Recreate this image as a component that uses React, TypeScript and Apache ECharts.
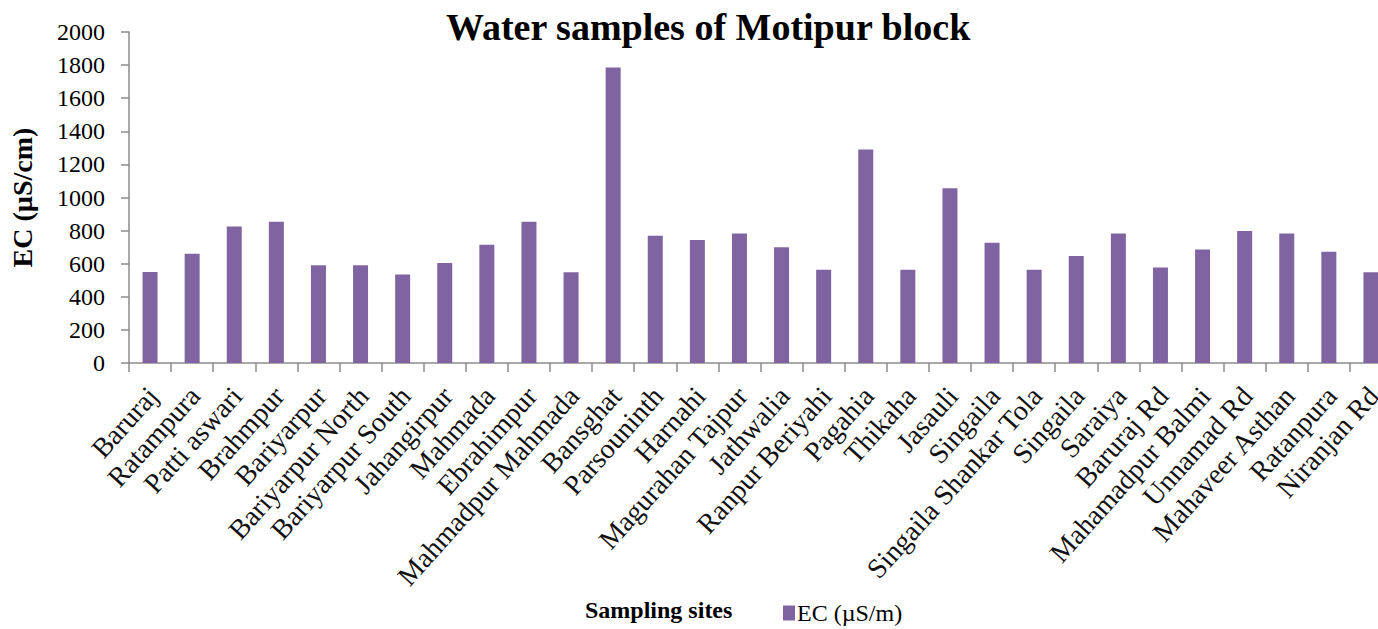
import React, { useEffect, useRef } from "react";
import * as echarts from "echarts";

const categories = [
  "Baruraj", "Ratampura", "Patti aswari", "Brahmpur", "Bariyarpur",
  "Bariyarpur North", "Bariyarpur South", "Jahangirpur", "Mahmada", "Ebrahimpur",
  "Mahmadpur Mahmada", "Bansghat", "Parsouninth", "Harnahi", "Magurahan Tajpur",
  "Jathwalia", "Ranpur Beriyahi", "Pagahia", "Thikaha", "Jasauli",
  "Singaila", "Singaila Shankar Tola", "Singaila", "Saraiya", "Baruraj Rd",
  "Mahamadpur Balmi", "Unnamad Rd", "Mahaveer Asthan", "Ratanpura", "Niranjan Rd",
];

const ecValues = [
  550, 660, 825, 853, 590,
  590, 535, 604, 714, 853,
  549, 1785, 769, 743, 783,
  700, 563, 1290, 563, 1056,
  726, 563, 646, 783, 577,
  686, 797, 783, 672, 549,
];

const seriesName = "EC (µS/m)";
const titleText = "Water samples of Motipur block";
const yAxisName = "EC (µS/cm)";
const xAxisName = "Sampling sites";

const FONT = "'Liberation Serif', 'Times New Roman', serif";
const AXIS_GRAY = "#8c8c8c";

export default function App() {
  const ref = useRef<HTMLDivElement>(null);
  useEffect(() => {
    if (!ref.current) return;
    const chart = echarts.init(ref.current, null, { renderer: "svg" });
    chart.setOption({
      animation: false,
      backgroundColor: "#ffffff",
      title: {
        text: titleText,
        left: 446,
        top: 8,
        padding: 0,
        textStyle: { fontFamily: FONT, fontSize: 38, fontWeight: "bold", color: "#000" },
      },
      legend: {
        left: 783,
        top: 601,
        padding: 0,
        itemWidth: 12,
        itemHeight: 15,
        icon: "rect",
        textStyle: { fontFamily: FONT, fontSize: 24, color: "#000", padding: [0, 0, 0, -3] },
        data: [seriesName],
      },
      grid: { left: 127, top: 32, width: 1265, height: 331, containLabel: false },
      xAxis: {
        type: "category",
        data: categories,
        boundaryGap: true,
        axisLine: { show: true, lineStyle: { color: AXIS_GRAY, width: 1.5 } },
        axisTick: { show: true, length: 9, alignWithLabel: false, lineStyle: { color: AXIS_GRAY, width: 1.5 } },
        axisLabel: {
          interval: 0,
          rotate: 48,
          margin: 31,
          padding: [0, -4, 0, 0],
          fontFamily: FONT,
          fontSize: 28,
          color: "#111",
        },
        splitLine: { show: false },
      },
      yAxis: {
        type: "value",
        min: 0,
        max: 2000,
        interval: 200,
        name: yAxisName,
        nameLocation: "middle",
        nameGap: 93,
        nameTextStyle: { fontFamily: FONT, fontSize: 28, fontWeight: "bold", color: "#000" },
        axisLine: { show: true, lineStyle: { color: AXIS_GRAY, width: 1.5 } },
        axisTick: { show: true, length: 8, lineStyle: { color: AXIS_GRAY, width: 1.5 } },
        axisLabel: {
          margin: 24,
          fontFamily: FONT,
          fontSize: 24,
          color: "#000",
          formatter: (v: number) => String(v),
        },
        splitLine: { show: false },
      },
      graphic: [
        {
          type: "text",
          left: 585,
          top: 598,
          style: {
            text: xAxisName,
            fontFamily: FONT,
            fontSize: 24,
            fontWeight: "bold",
            fill: "#000",
          },
        },
      ],
      series: [
        {
          name: seriesName,
          type: "bar",
          data: ecValues,
          barWidth: 15,
          itemStyle: { color: "#8064a2" },
        },
      ],
    });
    return () => chart.dispose();
  }, []);
  return (
    <div
      style={{ position: "absolute", left: 0, top: 0, width: 1378, height: 629, overflow: "hidden", background: "#fff" }}
    >
      <div ref={ref} style={{ width: 1400, height: 629 }} />
    </div>
  );
}
